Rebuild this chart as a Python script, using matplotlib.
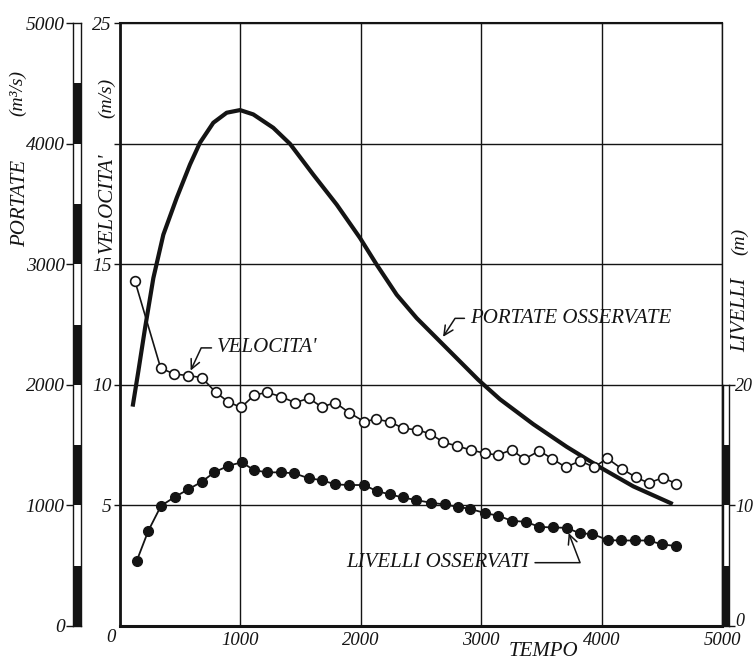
import matplotlib
matplotlib.use('Agg')
import matplotlib.pyplot as plt
import numpy as np

plt.rcParams['font.family'] = ['Liberation Serif', 'DejaVu Serif']
plt.rcParams['font.style'] = 'italic'

# ---------------- data ----------------
vel_t = [125, 338, 449, 567, 679, 795, 900, 1005, 1113, 1218, 1337, 1453, 1570, 1675,
         1788, 1902, 2029, 2126, 2243, 2351, 2469, 2577, 2685, 2801, 2913, 3031, 3137,
         3253, 3358, 3483, 3588, 3702, 3823, 3937, 4047, 4167, 4286, 4391, 4510, 4618]
vel_v = [14.29, 10.69, 10.45, 10.38, 10.30, 9.69, 9.29, 9.06, 9.56, 9.69, 9.51, 9.26,
         9.44, 9.08, 9.26, 8.85, 8.47, 8.58, 8.46, 8.20, 8.13, 7.97, 7.62, 7.46, 7.30,
         7.16, 7.09, 7.30, 6.92, 7.26, 6.94, 6.58, 6.85, 6.58, 6.95, 6.52, 6.16, 5.93,
         6.15, 5.90]

liv_t = [139, 235, 341, 457, 567, 679, 783, 900, 1011, 1113, 1218, 1335, 1448, 1570,
         1675, 1786, 1902, 2027, 2132, 2243, 2348, 2461, 2581, 2697, 2805, 2904, 3034,
         3142, 3256, 3370, 3483, 3594, 3710, 3823, 3923, 4051, 4161, 4280, 4391, 4504, 4615]
liv_h = [5.40, 7.89, 9.97, 10.71, 11.33, 11.96, 12.74, 13.29, 13.57, 12.93, 12.74, 12.74,
         12.66, 12.24, 12.10, 11.74, 11.69, 11.69, 11.19, 10.91, 10.66, 10.44, 10.22,
         10.08, 9.88, 9.72, 9.36, 9.14, 8.72, 8.64, 8.22, 8.17, 8.14, 7.67, 7.64, 7.12,
         7.09, 7.09, 7.09, 6.76, 6.64]

por_t = [105, 152, 208, 277, 360, 471, 581, 664, 775, 886, 997, 1107, 1273, 1412, 1605,
         1800, 1993, 2132, 2298, 2464, 2658, 2824, 2976, 3156, 3433, 3710, 3987, 4263, 4591]
por_q = [1819, 2110, 2470, 2885, 3245, 3550, 3826, 4007, 4173, 4256, 4278, 4242, 4131,
         3998, 3743, 3494, 3218, 2996, 2747, 2553, 2359, 2193, 2041, 1880, 1673, 1486,
         1316, 1158, 1011]

x_ticks = [0, 1000, 2000, 3000, 4000, 5000]
x_labels = ['', '1000', '2000', '3000', '4000', '5000']
vel_ticks = [5, 10, 15, 20, 25]
vel_labels = ['5', '10', '15', '', '25']
por_ticks = [0, 1000, 2000, 3000, 4000, 5000]
liv_ticks = [0, 10, 20]

K = '#141414'

# ---------------- layout helpers (pixel -> figure fraction) ----------------
W, H = 754, 662
def fx(px):
    return px / W
def fy(py):
    return 1 - py / H

L, R, T, B = 120, 722, 23, 626

fig = plt.figure(figsize=(W / 100, H / 100), dpi=100)
fig.patch.set_facecolor('white')

ax = fig.add_axes([fx(L), fy(B), fx(R) - fx(L), fy(T) - fy(B)])
ax.set_xlim(0, 5000)
ax.set_ylim(0, 25)
ax.set_xticks(x_ticks)
ax.set_xticklabels(x_labels)
ax.set_yticks(vel_ticks)
ax.set_yticklabels(vel_labels)
ax.tick_params(axis='x', length=0, pad=4, labelsize=13.5, colors=K)
ax.tick_params(axis='y', length=4, width=1.0, pad=2, labelsize=14, colors=K)
ax.grid(True, color=K, lw=1.0)
ax.set_axisbelow(True)
ax.spines['left'].set_linewidth(2.0)
ax.spines['bottom'].set_linewidth(2.2)
ax.spines['top'].set_linewidth(1.5)
ax.spines['right'].set_linewidth(1.0)
for s in ax.spines.values():
    s.set_color(K)

# portate (m3/s) on its own scale: 0-5000 spans the full height
ax_por = ax.twinx()
ax_por.set_ylim(0, 5000)
ax_por.set_axis_off()
ax_por.plot(por_t, por_q, color=K, lw=3.0, solid_capstyle='butt', solid_joinstyle='round')

# livelli (m): 0-20 spans the lower part (20 m at velocity 10)
ax_lev = ax.twinx()
ax_lev.set_ylim(0, 50)
ax_lev.set_axis_off()
ax_lev.plot(liv_t, liv_h, '-o', color=K, lw=1.3, ms=7, mfc=K, mec=K)

# velocita' (m/s)
ax_vel = ax.twinx()
ax_vel.set_ylim(0, 25)
ax_vel.set_axis_off()
ax_vel.plot(vel_t, vel_v, '-o', color=K, lw=1.2, ms=7, mfc='white', mec=K, mew=1.2)

arrow_kw = dict(lw=1.1, color=K, shrinkA=2, shrinkB=4)
ax_vel.annotate("VELOCITA'", xy=(vel_t[3], vel_v[3]), xytext=(806, 11.53),
                ha='left', va='center', fontsize=15, color=K,
                arrowprops=dict(arrowstyle='->,head_length=0.45,head_width=0.22',
                                connectionstyle='angle,angleA=0,angleB=65,rad=0', **arrow_kw))
ax_por.annotate('PORTATE OSSERVATE', xy=(por_t[20], por_q[20]), xytext=(2907, 2551),
                ha='left', va='center', fontsize=15, color=K,
                arrowprops=dict(arrowstyle='->,head_length=0.45,head_width=0.22',
                                connectionstyle='angle,angleA=0,angleB=57,rad=0', **arrow_kw))
ax_lev.annotate('LIVELLI OSSERVATI', xy=(liv_t[32], liv_h[32]), xytext=(1883, 5.25),
                ha='left', va='center', fontsize=15, color=K,
                arrowprops=dict(arrowstyle='->,head_length=0.45,head_width=0.22',
                                connectionstyle='angle,angleA=0,angleB=111,rad=0', **arrow_kw))

# ---------------- left scale bar: PORTATE ----------------
ax_pb = fig.add_axes([fx(73), fy(B), fx(81) - fx(73), fy(T) - fy(B)])
ax_pb.set_xlim(0, 1)
ax_pb.set_ylim(0, 5000)
seg_b = np.arange(0, 5000, 500)
ax_pb.bar(0.5, 500, bottom=seg_b, width=1.0,
          color=[K if i % 2 == 0 else 'white' for i in range(len(seg_b))], edgecolor='none')
ax_pb.set_xticks([])
ax_pb.set_yticks(por_ticks)
ax_pb.set_yticklabels([str(v) for v in por_ticks])
ax_pb.tick_params(axis='y', length=5, width=1.0, pad=1, labelsize=14, colors=K)
for s in ax_pb.spines.values():
    s.set_linewidth(1.0)
    s.set_color(K)

# ---------------- right scale bar: LIVELLI ----------------
y20 = B - 20 / 50 * (B - T)
ax_lb = fig.add_axes([fx(722.5), fy(B), fx(728.5) - fx(722.5), fy(y20) - fy(B)])
ax_lb.set_xlim(0, 1)
ax_lb.set_ylim(0, 20)
seg_l = np.arange(0, 20, 5)
ax_lb.bar(0.5, 5, bottom=seg_l, width=1.0,
          color=[K if i % 2 == 0 else 'white' for i in range(len(seg_l))], edgecolor='none')
ax_lb.set_xticks([])
ax_lb.yaxis.tick_right()
ax_lb.set_yticks(liv_ticks)
ax_lb.set_yticklabels([str(v) for v in liv_ticks])
ax_lb.tick_params(axis='y', length=4, width=1.0, pad=0.8, labelsize=13, colors=K)
ax_lb.get_yticklabels()[0].set_verticalalignment('baseline')
for s in ax_lb.spines.values():
    s.set_linewidth(1.0)
    s.set_color(K)

# ---------------- axis titles ----------------
fig.text(fx(21), fy(203), 'PORTATE', rotation=90, ha='center', va='center', fontsize=15, color=K)
fig.text(fx(18), fy(93), '(m³/s)', rotation=90, ha='center', va='center', fontsize=14, color=K)
fig.text(fx(107), fy(203), "VELOCITA'", rotation=90, ha='center', va='center', fontsize=15, color=K)
fig.text(fx(107), fy(98), '(m/s)', rotation=90, ha='center', va='center', fontsize=14, color=K)
fig.text(fx(741), fy(315), 'LIVELLI', rotation=90, ha='center', va='center', fontsize=15, color=K)
fig.text(fx(740), fy(241), '(m)', rotation=90, ha='center', va='center', fontsize=14, color=K)
fig.text(fx(543), fy(652), 'TEMPO', ha='center', va='center', fontsize=15, color=K)
fig.text(fx(111), fy(638), '0', ha='center', va='center', fontsize=13.5, color=K)

fig.savefig('out.png', dpi=100, facecolor='white')
